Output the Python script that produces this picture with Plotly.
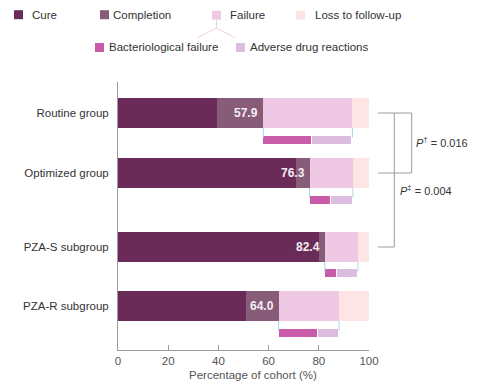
import plotly.graph_objects as go

# ---- data ----
groups = ["Routine group", "Optimized group", "PZA-S subgroup", "PZA-R subgroup"]
cure = [39.5, 70.8, 80.0, 50.9]
completion = [18.4, 5.5, 2.4, 13.1]
bact_failure = [19.3, 8.7, 5.0, 15.7]
adverse = [16.2, 8.6, 8.2, 8.4]
loss = [6.6, 6.4, 4.4, 11.9]
labels = ["57.9", "76.3", "82.4", "64.0"]
p_texts = ["<i>P</i><sup>†</sup> = 0.016", "<i>P</i><sup>‡</sup> = 0.004"]
x_ticks = [0, 20, 40, 60, 80, 100]

# ---- layout constants ----
W, H = 478, 391
ML, MR, MT, MB = 118, 109, 82, 41
ROW_Y = [0, 1, 2.233, 3.217]
SUB_OFF = 0.45
C_CURE, C_COMP, C_FAIL, C_LOSS = "#6a2b58", "#875c78", "#efc9e3", "#fde5e5"
C_BACT, C_ADR = "#c95ca8", "#dcbde0"
TXT = "#333333"
FONT = "Liberation Sans, Arial, sans-serif"

failure = [b + a for b, a in zip(bact_failure, adverse)]
base_comp = cure
base_fail = [c + d for c, d in zip(cure, completion)]
base_loss = [f + g for f, g in zip(base_fail, failure)]
base_adr = [f + b for f, b in zip(base_fail, bact_failure)]
sub_y = [y + SUB_OFF for y in ROW_Y]

fig = go.Figure()


def hbar(x, base, y, color, width, line=0):
    fig.add_trace(go.Bar(x=x, base=base, y=y, orientation="h", width=width,
                         marker=dict(color=color, line=dict(color="white", width=line)),
                         showlegend=False, hoverinfo="skip"))


hbar(cure, [0] * 4, ROW_Y, C_CURE, 0.5)
hbar(completion, base_comp, ROW_Y, C_COMP, 0.5)
hbar(failure, base_fail, ROW_Y, C_FAIL, 0.5)
hbar(loss, base_loss, ROW_Y, C_LOSS, 0.5)
hbar(bact_failure, base_fail, sub_y, C_BACT, 0.15, 1)
hbar(adverse, base_adr, sub_y, C_ADR, 0.15, 1)

ann = []
shapes = []
# value labels
for i in range(4):
    ann.append(dict(x=base_fail[i], y=ROW_Y[i], xref="x", yref="y", text="<b>%s</b>" % labels[i],
                    showarrow=False, xanchor="right", xshift=-3,
                    font=dict(size=12, color="#f4eef2", family=FONT)))
    # light blue bracket ticks
    for xx in (base_fail[i], base_loss[i]):
        shapes.append(dict(type="line", xref="x", yref="y", x0=xx, x1=xx,
                           y0=ROW_Y[i] + 0.25, y1=sub_y[i] - 0.04,
                           line=dict(color="#a9d6e8", width=1)))


def px(xp):
    return (xp - ML) / (W - ML - MR)


def py(yp):
    return (H - MB - yp) / (H - MT - MB)


# P-value brackets
GRAY = "#9a9a9a"
xa, xb, xc = px(378), px(411.7), px(394.3)
shapes += [
    dict(type="line", xref="paper", yref="y", x0=xa, x1=xb, y0=ROW_Y[0], y1=ROW_Y[0], line=dict(color=GRAY, width=1)),
    dict(type="line", xref="paper", yref="y", x0=xb, x1=xb, y0=ROW_Y[0], y1=ROW_Y[1], line=dict(color=GRAY, width=1)),
    dict(type="line", xref="paper", yref="y", x0=xa, x1=xb, y0=ROW_Y[1], y1=ROW_Y[1], line=dict(color=GRAY, width=1)),
    dict(type="line", xref="paper", yref="y", x0=xc, x1=xc, y0=ROW_Y[0], y1=ROW_Y[2], line=dict(color=GRAY, width=1)),
    dict(type="line", xref="paper", yref="y", x0=xa, x1=xc, y0=ROW_Y[2], y1=ROW_Y[2], line=dict(color=GRAY, width=1)),
]
ann.append(dict(x=px(414), y=ROW_Y[0] + 0.48, xref="paper", yref="y", text=p_texts[0],
                showarrow=False, xanchor="left", font=dict(size=11, color=TXT, family=FONT)))
ann.append(dict(x=px(398), y=ROW_Y[1] + 0.28, xref="paper", yref="y", text=p_texts[1],
                showarrow=False, xanchor="left", font=dict(size=11, color=TXT, family=FONT)))

# custom legend
legend_items = [
    ("Cure", C_CURE, 14, 30, 14.7),
    ("Completion", C_COMP, 100, 111, 14.7),
    ("Failure", C_FAIL, 212, 228, 15.2),
    ("Loss to follow-up", C_LOSS, 296, 313, 15.2),
    ("Bacteriological failure", C_BACT, 95, 107, 47.5),
    ("Adverse drug reactions", C_ADR, 236, 248, 47.5),
]
for name, col, sx, tx, cy in legend_items:
    shapes.append(dict(type="rect", xref="paper", yref="paper", x0=px(sx), x1=px(sx + 9),
                       y0=py(cy - 4.5), y1=py(cy + 4.5), fillcolor=col, line=dict(width=0)))
    ann.append(dict(x=px(tx), y=py(cy), xref="paper", yref="paper", text=name, showarrow=False,
                    xanchor="left", yanchor="middle", font=dict(size=11.5, color=TXT, family=FONT)))
PINK = "#f3cfe0"
shapes += [
    dict(type="line", xref="paper", yref="paper", x0=px(216.5), x1=px(216.5), y0=py(20), y1=py(28), line=dict(color=PINK, width=1)),
    dict(type="line", xref="paper", yref="paper", x0=px(216.5), x1=px(197), y0=py(28), y1=py(38), line=dict(color=PINK, width=1)),
    dict(type="line", xref="paper", yref="paper", x0=px(216.5), x1=px(236), y0=py(28), y1=py(38), line=dict(color=PINK, width=1)),
]

# x-axis title
ann.append(dict(x=53.6, y=py(375), xref="x", yref="paper", text="Percentage of cohort (%)",
                showarrow=False, xanchor="center", yanchor="middle", font=dict(size=11.5, color="#555555", family=FONT)))

fig.update_layout(
    width=W, height=H, margin=dict(l=ML, r=MR, t=MT, b=MB),
    paper_bgcolor="white", plot_bgcolor="white", barmode="overlay", bargap=0,
    font=dict(family=FONT, size=11.5, color=TXT),
    xaxis=dict(range=[0, 100], tickvals=x_ticks, showgrid=False, zeroline=False, showline=True,
               linecolor=GRAY, linewidth=1, ticks="inside", ticklen=5, tickcolor=GRAY,
               tickfont=dict(size=11.5, color="#555555")),
    yaxis=dict(range=[3.95, -0.517], tickvals=ROW_Y, ticktext=groups, showgrid=False, zeroline=False,
               showline=True, linecolor=GRAY, linewidth=1, ticks="", ticklabelstandoff=6,
               tickfont=dict(size=11.5, color=TXT)),
    shapes=shapes, annotations=ann,
)

fig.write_html("out.html", config={"displayModeBar": False},
               post_script="document.body.style.margin='0';document.body.style.overflow='hidden';")
